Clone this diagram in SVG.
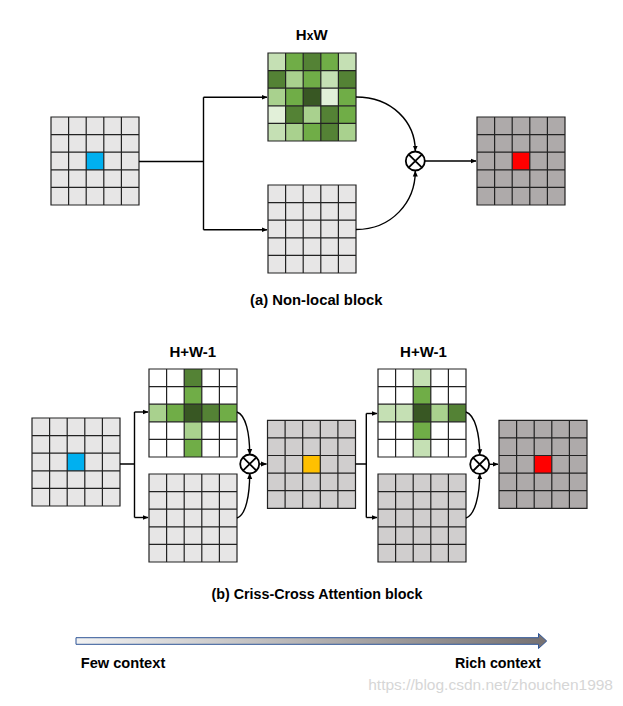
<svg xmlns="http://www.w3.org/2000/svg" xmlns:xlink="http://www.w3.org/1999/xlink" width="623" height="706" viewBox="0 0 623 706">
<style>
.lbl{font-family:"Liberation Sans",Arial,sans-serif;font-weight:bold;font-size:15px;fill:#000}
.wm{font-family:"Liberation Sans",Arial,sans-serif;font-size:15.5px;fill:#d6d6d6}
.gl{fill:none;stroke:#222;stroke-width:1.2}
.c1{fill:#e7e6e6}.c2{fill:#d0cece}.c3{fill:#aeaaaa}.cw{fill:#fff}
.g1{fill:#e2f0d9}.g2{fill:#c5e0b4}.g3{fill:#a9d18e}.g4{fill:#70ad47}.g5{fill:#548235}.g6{fill:#385723}
.blue{fill:#00b0f0}.red{fill:#ff0000}.org{fill:#ffc000}
.ln{fill:none;stroke:#000;stroke-width:1.4}
.ar{fill:none;stroke:#000;stroke-width:1.4;marker-end:url(#ah)}
.mul{fill:#fff;stroke:#000;stroke-width:1.8}
</style>
<defs>
<marker id="ah" markerUnits="userSpaceOnUse" markerWidth="6" markerHeight="6" viewBox="0 0 6 6" refX="5.5" refY="3" orient="auto">
<path d="M0,0.5 L6,3 L0,5.5 Z" fill="#000"/>
</marker>
<path id="grid" class="gl" d="M0,0H88V88H0Z M17.6,0V88 M35.2,0V88 M52.8,0V88 M70.4,0V88 M0,17.6H88 M0,35.2H88 M0,52.8H88 M0,70.4H88"/>
<g id="mulsym">
<circle r="9.5" class="mul"/>
<path d="M-6.7,-6.7L6.7,6.7M6.7,-6.7L-6.7,6.7" stroke="#000" stroke-width="1.8"/>
</g>
<linearGradient id="ctx" x1="0" y1="0" x2="1" y2="0">
<stop offset="0" stop-color="#f2f2f2"/>
<stop offset="1" stop-color="#767171"/>
</linearGradient>
</defs>

<!-- (a) Non-local block -->
<text class="lbl" x="311.7" y="40" text-anchor="middle">H<tspan font-size="12">x</tspan>W</text>

<g id="a-input" transform="translate(51,117)">
<rect class="c1" width="88" height="88"/>
<rect class="blue" x="35.2" y="35.2" width="17.6" height="17.6"/>
<use xlink:href="#grid"/>
</g>

<g id="a-affinity" transform="translate(268,53)">
<rect class="g2" x="0" y="0" width="17.6" height="17.6"/>
<rect class="g4" x="17.6" y="0" width="17.6" height="17.6"/>
<rect class="g5" x="35.2" y="0" width="17.6" height="17.6"/>
<rect class="g4" x="52.8" y="0" width="17.6" height="17.6"/>
<rect class="g2" x="70.4" y="0" width="17.6" height="17.6"/>
<rect class="g5" x="0" y="17.6" width="17.6" height="17.6"/>
<rect class="g3" x="17.6" y="17.6" width="17.6" height="17.6"/>
<rect class="g4" x="35.2" y="17.6" width="17.6" height="17.6"/>
<rect class="g2" x="52.8" y="17.6" width="17.6" height="17.6"/>
<rect class="g5" x="70.4" y="17.6" width="17.6" height="17.6"/>
<rect class="g3" x="0" y="35.2" width="17.6" height="17.6"/>
<rect class="g4" x="17.6" y="35.2" width="17.6" height="17.6"/>
<rect class="g6" x="35.2" y="35.2" width="17.6" height="17.6"/>
<rect class="g1" x="52.8" y="35.2" width="17.6" height="17.6"/>
<rect class="g4" x="70.4" y="35.2" width="17.6" height="17.6"/>
<rect class="g1" x="0" y="52.8" width="17.6" height="17.6"/>
<rect class="g5" x="17.6" y="52.8" width="17.6" height="17.6"/>
<rect class="g3" x="35.2" y="52.8" width="17.6" height="17.6"/>
<rect class="g5" x="52.8" y="52.8" width="17.6" height="17.6"/>
<rect class="g4" x="70.4" y="52.8" width="17.6" height="17.6"/>
<rect class="g2" x="0" y="70.4" width="17.6" height="17.6"/>
<rect class="g3" x="17.6" y="70.4" width="17.6" height="17.6"/>
<rect class="g4" x="35.2" y="70.4" width="17.6" height="17.6"/>
<rect class="g5" x="52.8" y="70.4" width="17.6" height="17.6"/>
<rect class="g3" x="70.4" y="70.4" width="17.6" height="17.6"/>
<use xlink:href="#grid"/>
</g>

<g id="a-value" transform="translate(268,185)">
<rect class="c1" width="88" height="88"/>
<use xlink:href="#grid"/>
</g>

<g id="a-mult" transform="translate(415.3,161)"><use xlink:href="#mulsym"/></g>

<g id="a-output" transform="translate(477,117)">
<rect class="c3" width="88" height="88"/>
<rect class="red" x="35.2" y="35.2" width="17.6" height="17.6"/>
<use xlink:href="#grid"/>
</g>

<text class="lbl" x="316.3" y="305" text-anchor="middle" textLength="132.5" lengthAdjust="spacingAndGlyphs">(a) Non-local block</text>

<!-- (b) Criss-Cross Attention block -->
<text class="lbl" x="192.8" y="356.7" text-anchor="middle">H+W-1</text>
<text class="lbl" x="423.5" y="356.7" text-anchor="middle">H+W-1</text>

<g id="b-input" transform="translate(32,418)">
<rect class="c1" width="88" height="88"/>
<rect class="blue" x="35.2" y="35.2" width="17.6" height="17.6"/>
<use xlink:href="#grid"/>
</g>

<g id="b-affinity1" transform="translate(149,369)">
<rect class="cw" width="88" height="88"/>
<rect class="g5" x="35.2" y="0" width="17.6" height="17.6"/>
<rect class="g4" x="35.2" y="17.6" width="17.6" height="17.6"/>
<rect class="g3" x="0" y="35.2" width="17.6" height="17.6"/>
<rect class="g4" x="17.6" y="35.2" width="17.6" height="17.6"/>
<rect class="g6" x="35.2" y="35.2" width="17.6" height="17.6"/>
<rect class="g5" x="52.8" y="35.2" width="17.6" height="17.6"/>
<rect class="g4" x="70.4" y="35.2" width="17.6" height="17.6"/>
<rect class="g3" x="35.2" y="52.8" width="17.6" height="17.6"/>
<rect class="g4" x="35.2" y="70.4" width="17.6" height="17.6"/>
<use xlink:href="#grid"/>
</g>

<g id="b-value1" transform="translate(149,474)">
<rect class="c1" width="88" height="88"/>
<use xlink:href="#grid"/>
</g>

<g id="b-mult1" transform="translate(249.7,464)"><use xlink:href="#mulsym"/></g>

<g id="b-middle" transform="translate(267.5,420.3)">
<rect class="c2" width="88" height="88"/>
<rect class="org" x="35.2" y="35.2" width="17.6" height="17.6"/>
<use xlink:href="#grid"/>
</g>

<g id="b-affinity2" transform="translate(378,369)">
<rect class="cw" width="88" height="88"/>
<rect class="g2" x="35.2" y="0" width="17.6" height="17.6"/>
<rect class="g4" x="35.2" y="17.6" width="17.6" height="17.6"/>
<rect class="g2" x="0" y="35.2" width="17.6" height="17.6"/>
<rect class="g2" x="17.6" y="35.2" width="17.6" height="17.6"/>
<rect class="g6" x="35.2" y="35.2" width="17.6" height="17.6"/>
<rect class="g3" x="52.8" y="35.2" width="17.6" height="17.6"/>
<rect class="g5" x="70.4" y="35.2" width="17.6" height="17.6"/>
<rect class="g4" x="35.2" y="52.8" width="17.6" height="17.6"/>
<rect class="g2" x="35.2" y="70.4" width="17.6" height="17.6"/>
<use xlink:href="#grid"/>
</g>

<g id="b-value2" transform="translate(378,474)">
<rect class="c2" width="88" height="88"/>
<use xlink:href="#grid"/>
</g>

<g id="b-mult2" transform="translate(479.7,464.3)"><use xlink:href="#mulsym"/></g>

<g id="b-output" transform="translate(499,420.3)">
<rect class="c3" width="88" height="88"/>
<rect class="red" x="35.2" y="35.2" width="17.6" height="17.6"/>
<use xlink:href="#grid"/>
</g>

<text class="lbl" x="316.9" y="598.5" text-anchor="middle" textLength="211" lengthAdjust="spacingAndGlyphs">(b) Criss-Cross Attention block</text>

<!-- connectors -->
<g id="connectors">
<path class="ln" d="M139,161.5H203.5 M203.5,97.3V229.7"/>
<path class="ar" d="M203.5,97.3H267"/>
<path class="ar" d="M203.5,229.7H267"/>
<path class="ar" d="M356,97 C392,97 415.3,122 415.3,151"/>
<path class="ar" d="M356,229.5 C392,229.5 415.3,202 415.3,171"/>
<path class="ar" d="M424.8,161H476"/>

<path class="ln" d="M120,464H134.5 M134.5,412V517.5"/>
<path class="ar" d="M134.5,412H148"/>
<path class="ar" d="M134.5,517.5H148"/>
<path class="ar" d="M237,412 C246,415 249.7,434 249.7,454.5"/>
<path class="ar" d="M237,518 C246,515 249.7,495 249.7,473.5"/>
<path class="ar" d="M259.2,464H266.5"/>

<path class="ln" d="M355.5,464H366.3 M366.3,413.5V517.5"/>
<path class="ar" d="M366.3,413.5H377"/>
<path class="ar" d="M366.3,517.5H377"/>
<path class="ar" d="M466,412 C475,415 479.7,434 479.7,454.8"/>
<path class="ar" d="M466,518 C475,515 479.7,495 479.7,473.8"/>
<path class="ar" d="M489.2,464.3H498"/>
</g>

<!-- context arrow -->
<path d="M76,637.7H538.5V633.5L546.7,641L538.5,648.5V644.3H76Z" fill="url(#ctx)" stroke="#2f5597" stroke-width="1"/>
<text class="lbl" x="80.7" y="667.7" textLength="84.6" lengthAdjust="spacingAndGlyphs">Few context</text>
<text class="lbl" x="455" y="667.7" textLength="85.7" lengthAdjust="spacingAndGlyphs">Rich context</text>
<text class="wm" x="613" y="690" text-anchor="end">https://blog.csdn.net/zhouchen1998</text>
</svg>
